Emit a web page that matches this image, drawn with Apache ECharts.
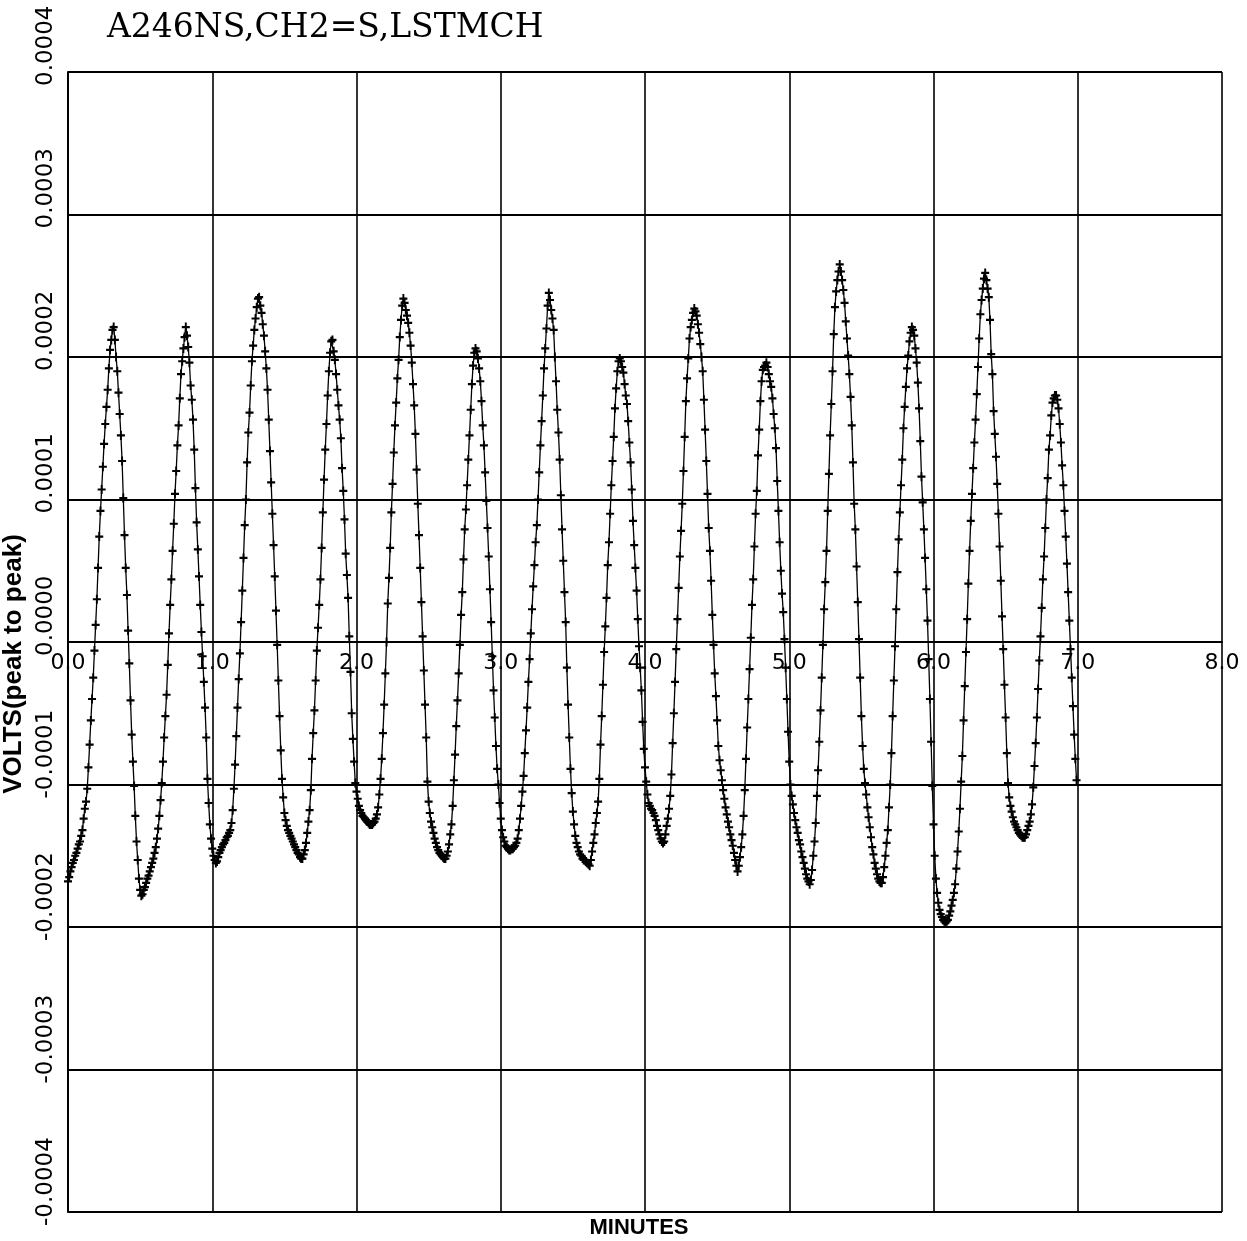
<!DOCTYPE html>
<html>
<head>
<meta charset="utf-8">
<script src="https://cdn.jsdelivr.net/npm/echarts@6/dist/echarts.min.js"></script>
<style>
  html, body { margin: 0; padding: 0; background: #ffffff; }
  #chart { width: 1247px; height: 1241px; }
</style>
</head>
<body>
<div id="chart"></div>
<script>
// Recorder trace for channel 2, one reading every half second.
const chartTitle = 'A246NS,CH2=S,LSTMCH';
const xAxisTitle = 'MINUTES';
const yAxisTitle = 'VOLTS(peak to peak)';

const sampleStepMinutes = 1 / 120;

// Readings in microvolts, twelve per tenth of a minute (rows start at 0.0, 0.1, 0.2 ... min).
const traceMicrovolts = [
  -168,-165,-161,-158,-155,-153,-150,-148,-145,-142,-140,-136,
  -132,-124,-117,-112,-103,-88,-72,-55,-40,-25,-6,12,
  30,52,74,92,107,123,139,153,165,177,192,205,
  212,219,221,212,200,190,175,160,145,127,101,75,
  52,33,8,-15,-41,-65,-84,-101,-122,-140,-153,-166,
  -174,-178,-177,-174,-172,-169,-166,-164,-161,-158,-155,-152,
  -148,-144,-138,-131,-122,-111,-99,-84,-67,-52,-37,-16,
  6,26,44,64,83,104,120,138,152,171,188,197,
  206,214,221,215,207,196,180,170,156,135,108,84,
  65,46,26,7,-10,-28,-46,-67,-96,-113,-128,-138,
  -145,-150,-153,-155,-154,-151,-148,-146,-144,-142,-141,-139,
  -137,-136,-134,-132,-127,-118,-103,-86,-66,-46,-26,-8,
  14,36,59,82,100,126,147,161,180,197,208,219,
  227,235,241,242,236,231,223,215,204,192,177,156,
  134,112,90,68,46,22,-2,-27,-52,-76,-96,-109,
  -120,-125,-129,-132,-134,-136,-138,-140,-142,-144,-146,-148,
  -149,-151,-152,-152,-149,-146,-141,-134,-126,-118,-104,-82,
  -64,-48,-27,-6,10,26,44,66,91,114,135,153,
  173,190,203,211,212,204,198,188,177,166,156,143,
  122,106,86,62,47,31,4,-21,-50,-68,-84,-99,
  -105,-110,-115,-118,-120,-122,-123,-124,-125,-126,-127,-128,
  -128,-128,-127,-126,-124,-121,-116,-107,-96,-82,-64,-44,
  -22,0,27,45,66,91,111,133,152,168,185,198,
  214,226,236,241,238,233,229,224,217,208,196,181,
  166,146,121,97,75,52,28,4,-20,-44,-67,-98,
  -112,-120,-126,-130,-134,-138,-141,-144,-146,-148,-149,-150,
  -151,-152,-152,-150,-147,-142,-135,-128,-115,-97,-79,-59,
  -41,-22,-2,19,35,58,79,93,110,128,145,163,
  181,194,203,206,204,199,192,183,169,152,138,119,
  99,80,60,37,14,-10,-34,-53,-73,-89,-100,-113,
  -124,-132,-137,-140,-143,-144,-145,-146,-146,-145,-145,-144,
  -143,-141,-138,-132,-124,-115,-105,-94,-78,-62,-46,-28,
  -12,6,23,39,54,70,82,100,119,138,155,173,
  192,206,220,236,245,240,233,227,219,200,183,163,
  147,128,103,79,57,35,14,-18,-44,-67,-89,-106,
  -119,-128,-136,-141,-144,-147,-149,-150,-152,-153,-153,-154,
  -155,-156,-157,-153,-147,-141,-135,-127,-120,-112,-96,-72,
  -52,-30,-7,11,31,54,70,90,110,127,144,164,
  178,190,197,199,197,193,189,181,173,167,155,140,
  126,107,85,68,52,36,16,-3,-18,-34,-56,-75,
  -88,-98,-107,-113,-115,-117,-118,-120,-122,-125,-129,-132,
  -135,-138,-140,-141,-140,-135,-129,-124,-117,-108,-93,-71,
  -50,-28,-5,16,38,60,78,97,120,144,169,185,
  199,213,221,226,231,234,232,229,223,217,209,200,
  190,170,149,127,104,80,64,43,19,-2,-22,-38,
  -55,-73,-83,-90,-97,-104,-110,-116,-121,-126,-130,-135,
  -139,-143,-148,-153,-157,-161,-157,-151,-144,-135,-122,-104,
  -82,-60,-40,-19,3,26,44,67,90,106,131,149,
  169,183,191,193,194,196,193,188,183,179,171,160,
  150,136,113,92,70,50,34,21,2,-18,-40,-63,
  -84,-100,-108,-114,-120,-125,-130,-134,-139,-142,-147,-151,
  -155,-159,-163,-166,-168,-170,-167,-160,-150,-140,-127,-108,
  -90,-70,-48,-25,-2,23,42,64,92,118,145,167,
  190,216,235,246,254,260,265,260,254,247,238,225,
  213,201,188,172,152,126,97,79,53,28,2,-25,
  -52,-73,-89,-99,-107,-116,-123,-130,-137,-144,-149,-155,
  -159,-163,-166,-168,-169,-169,-165,-158,-150,-141,-132,-116,
  -100,-78,-52,-27,-3,23,49,72,91,110,128,150,
  165,179,192,201,211,217,221,219,215,206,196,182,
  164,141,116,98,79,59,37,15,-12,-40,-70,-101,
  -128,-150,-166,-176,-183,-188,-191,-193,-195,-196,-197,-196,
  -195,-192,-189,-185,-181,-176,-170,-159,-147,-133,-117,-98,
  -80,-55,-31,-7,16,41,64,85,104,122,140,156,
  174,193,213,230,240,248,255,259,254,248,242,226,
  202,188,162,146,130,111,90,67,43,18,-5,-30,
  -53,-78,-99,-109,-115,-119,-123,-126,-128,-130,-132,-134,
  -135,-136,-137,-137,-137,-135,-132,-129,-126,-121,-114,-102,
  -87,-71,-53,-33,-13,4,24,44,60,80,100,115,
  135,145,159,168,171,173,173,170,164,153,140,124,
  110,92,74,55,35,15,-5,-25,-45,-65,-82,-97
];

// Axis ranges (minutes, volts)
const minutesRange = [0, 8];
const minutesStep = 1;
const voltsRange = [-0.0004, 0.0004];
const voltsStep = 0.0001;

const tracePoints = traceMicrovolts.map((uv, i) => [i * sampleStepMinutes, uv * 1e-6]);

const ink = '#000000';
const plusMark = 'path://M3.8,0H6.2V3.8H10V6.2H6.2V10H3.8V6.2H0V3.8H3.8Z';

const chart = echarts.init(document.getElementById('chart'), null, { renderer: 'canvas' });

chart.setOption({
  animation: false,
  backgroundColor: '#ffffff',
  title: {
    text: chartTitle,
    left: 102,
    top: 7,
    textStyle: {
      fontFamily: 'DejaVu Serif',
      fontSize: 33,
      fontWeight: 'normal',
      color: ink
    }
  },
  grid: {
    left: 68,
    right: 25,
    top: 72,
    bottom: 29,
    containLabel: false,
    outerBoundsMode: 'none'
  },
  xAxis: {
    type: 'value',
    position: 'bottom',
    // the minutes scale is drawn across the middle of the plot, along the zero-volt line
    offset: -570,
    min: minutesRange[0],
    max: minutesRange[1],
    interval: minutesStep,
    axisLine: { show: true, onZero: false, lineStyle: { color: ink, width: 2 } },
    axisTick: { show: false },
    axisLabel: {
      formatter: v => v.toFixed(1),
      color: ink,
      fontFamily: 'DejaVu Sans',
      fontSize: 22,
      margin: 10
    },
    splitLine: { show: true, lineStyle: { color: ink, width: 1.6 } },
    name: xAxisTitle,
    nameLocation: 'middle',
    nameGap: 575,
    nameTextStyle: {
      fontFamily: 'Liberation Sans',
      fontWeight: 'bold',
      fontSize: 22,
      color: ink,
      padding: [0, 12, 0, 0]
    }
  },
  yAxis: {
    type: 'value',
    min: voltsRange[0],
    max: voltsRange[1],
    interval: voltsStep,
    axisLine: { show: true, onZero: false, lineStyle: { color: ink, width: 2 } },
    axisTick: { show: false },
    axisLabel: {
      rotate: 90,
      formatter: v => (Math.abs(v) < 1e-12 ? 0 : v).toFixed(4),
      color: ink,
      fontFamily: 'DejaVu Sans',
      fontSize: 23,
      margin: 22,
      align: 'left',
      verticalAlign: 'middle',
      padding: [0, 0, 0, -14]
    },
    splitLine: { show: true, lineStyle: { color: ink, width: 2 } },
    name: yAxisTitle,
    nameLocation: 'middle',
    nameRotate: 90,
    nameGap: 30,
    nameTextStyle: {
      fontFamily: 'Liberation Sans',
      fontWeight: 'bold',
      fontSize: 26,
      color: ink,
      padding: [0, 44, 0, 0]
    }
  },
  series: [
    {
      type: 'line',
      data: tracePoints,
      showAllSymbol: true,
      symbol: plusMark,
      symbolSize: [8, 9],
      itemStyle: { color: ink },
      lineStyle: { color: ink, width: 1.3 },
      silent: true,
      z: 5
    }
  ]
});
</script>
</body>
</html>
